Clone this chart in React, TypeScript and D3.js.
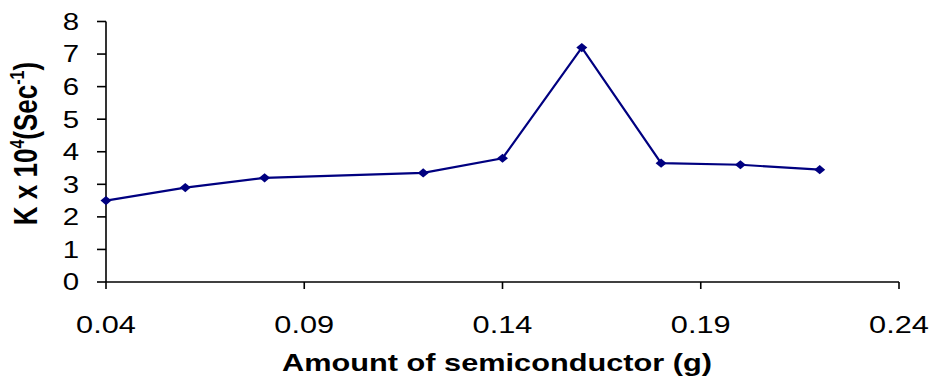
import React from "react";
import * as d3 from "d3";

// Rate constant vs. catalyst loading
const amounts = [0.04, 0.06, 0.08, 0.12, 0.14, 0.16, 0.18, 0.2, 0.22];
const rateK = [2.5, 2.9, 3.2, 3.35, 3.8, 7.2, 3.65, 3.6, 3.45];
const xTicks = [0.04, 0.09, 0.14, 0.19, 0.24];
const yTicks = [0, 1, 2, 3, 4, 5, 6, 7, 8];

const W = 934;
const H = 377;
const SX = 1.28; // horizontal glyph stretch
const FONT = "'Liberation Sans', Arial, sans-serif";

export default function App() {
  const x = d3.scaleLinear().domain([0.04, 0.24]).range([106, 899]);
  const y = d3.scaleLinear().domain([0, 8]).range([282, 21.5]);

  const pts = amounts.map((a, i) => ({ a, k: rateK[i] }));
  const line = d3
    .line<{ a: number; k: number }>()
    .x((d) => x(d.a))
    .y((d) => y(d.k));
  const diamond = d3.symbol(d3.symbolSquare, 42)() as string;

  const x0 = x.range()[0];
  const x1 = x.range()[1];
  const y0 = y.range()[0];
  const y1 = y.range()[1];

  return (
    <svg
      width={W}
      height={H}
      style={{ position: "absolute", left: 0, top: 0, background: "#fff" }}
      fontFamily={FONT}
    >
      {/* axes */}
      <line x1={x0} x2={x0} y1={y1} y2={y0} stroke="#000" strokeWidth={1.6} />
      <line x1={x0} x2={x1} y1={y0} y2={y0} stroke="#000" strokeWidth={1.6} />
      {yTicks.map((t) => (
        <g key={"y" + t}>
          <line x1={x0 - 9} x2={x0} y1={y(t)} y2={y(t)} stroke="#000" strokeWidth={1.6} />
          <text
            transform={`translate(79,${y(t) + 8.4}) scale(${SX},1)`}
            textAnchor="end"
            fontSize={23}
            fill="#000"
          >
            {t}
          </text>
        </g>
      ))}
      {xTicks.map((t) => (
        <g key={"x" + t}>
          <line x1={x(t)} x2={x(t)} y1={y0} y2={y0 + 7} stroke="#000" strokeWidth={1.6} />
          <text
            transform={`translate(${x(t)},333) scale(${SX},1)`}
            textAnchor="middle"
            fontSize={24}
            fill="#000"
          >
            {d3.format(".2f")(t)}
          </text>
        </g>
      ))}

      {/* series */}
      <path d={line(pts) as string} fill="none" stroke="#000080" strokeWidth={2.2} />
      {pts.map((d, i) => (
        <path
          key={"m" + i}
          d={diamond}
          transform={`translate(${x(d.a)},${y(d.k)}) scale(1.2,1) rotate(45)`}
          fill="#000080"
        />
      ))}

      {/* axis titles */}
      <text
        transform={`translate(497,371) scale(${SX},1)`}
        textAnchor="middle"
        fontSize={24}
        fontWeight="bold"
        fill="#000"
      >
        Amount of semiconductor (g)
      </text>
      <text
        transform={`translate(37,143.5) scale(${SX},1) rotate(-90)`}
        textAnchor="middle"
        fontSize={26}
        fontWeight="bold"
        fill="#000"
      >
        K x 10
        <tspan fontSize={16} dy={-10}>4</tspan>
        <tspan dy={10}>(Sec</tspan>
        <tspan fontSize={16} dy={-10}>-1</tspan>
        <tspan dy={10}>)</tspan>
      </text>
    </svg>
  );
}
